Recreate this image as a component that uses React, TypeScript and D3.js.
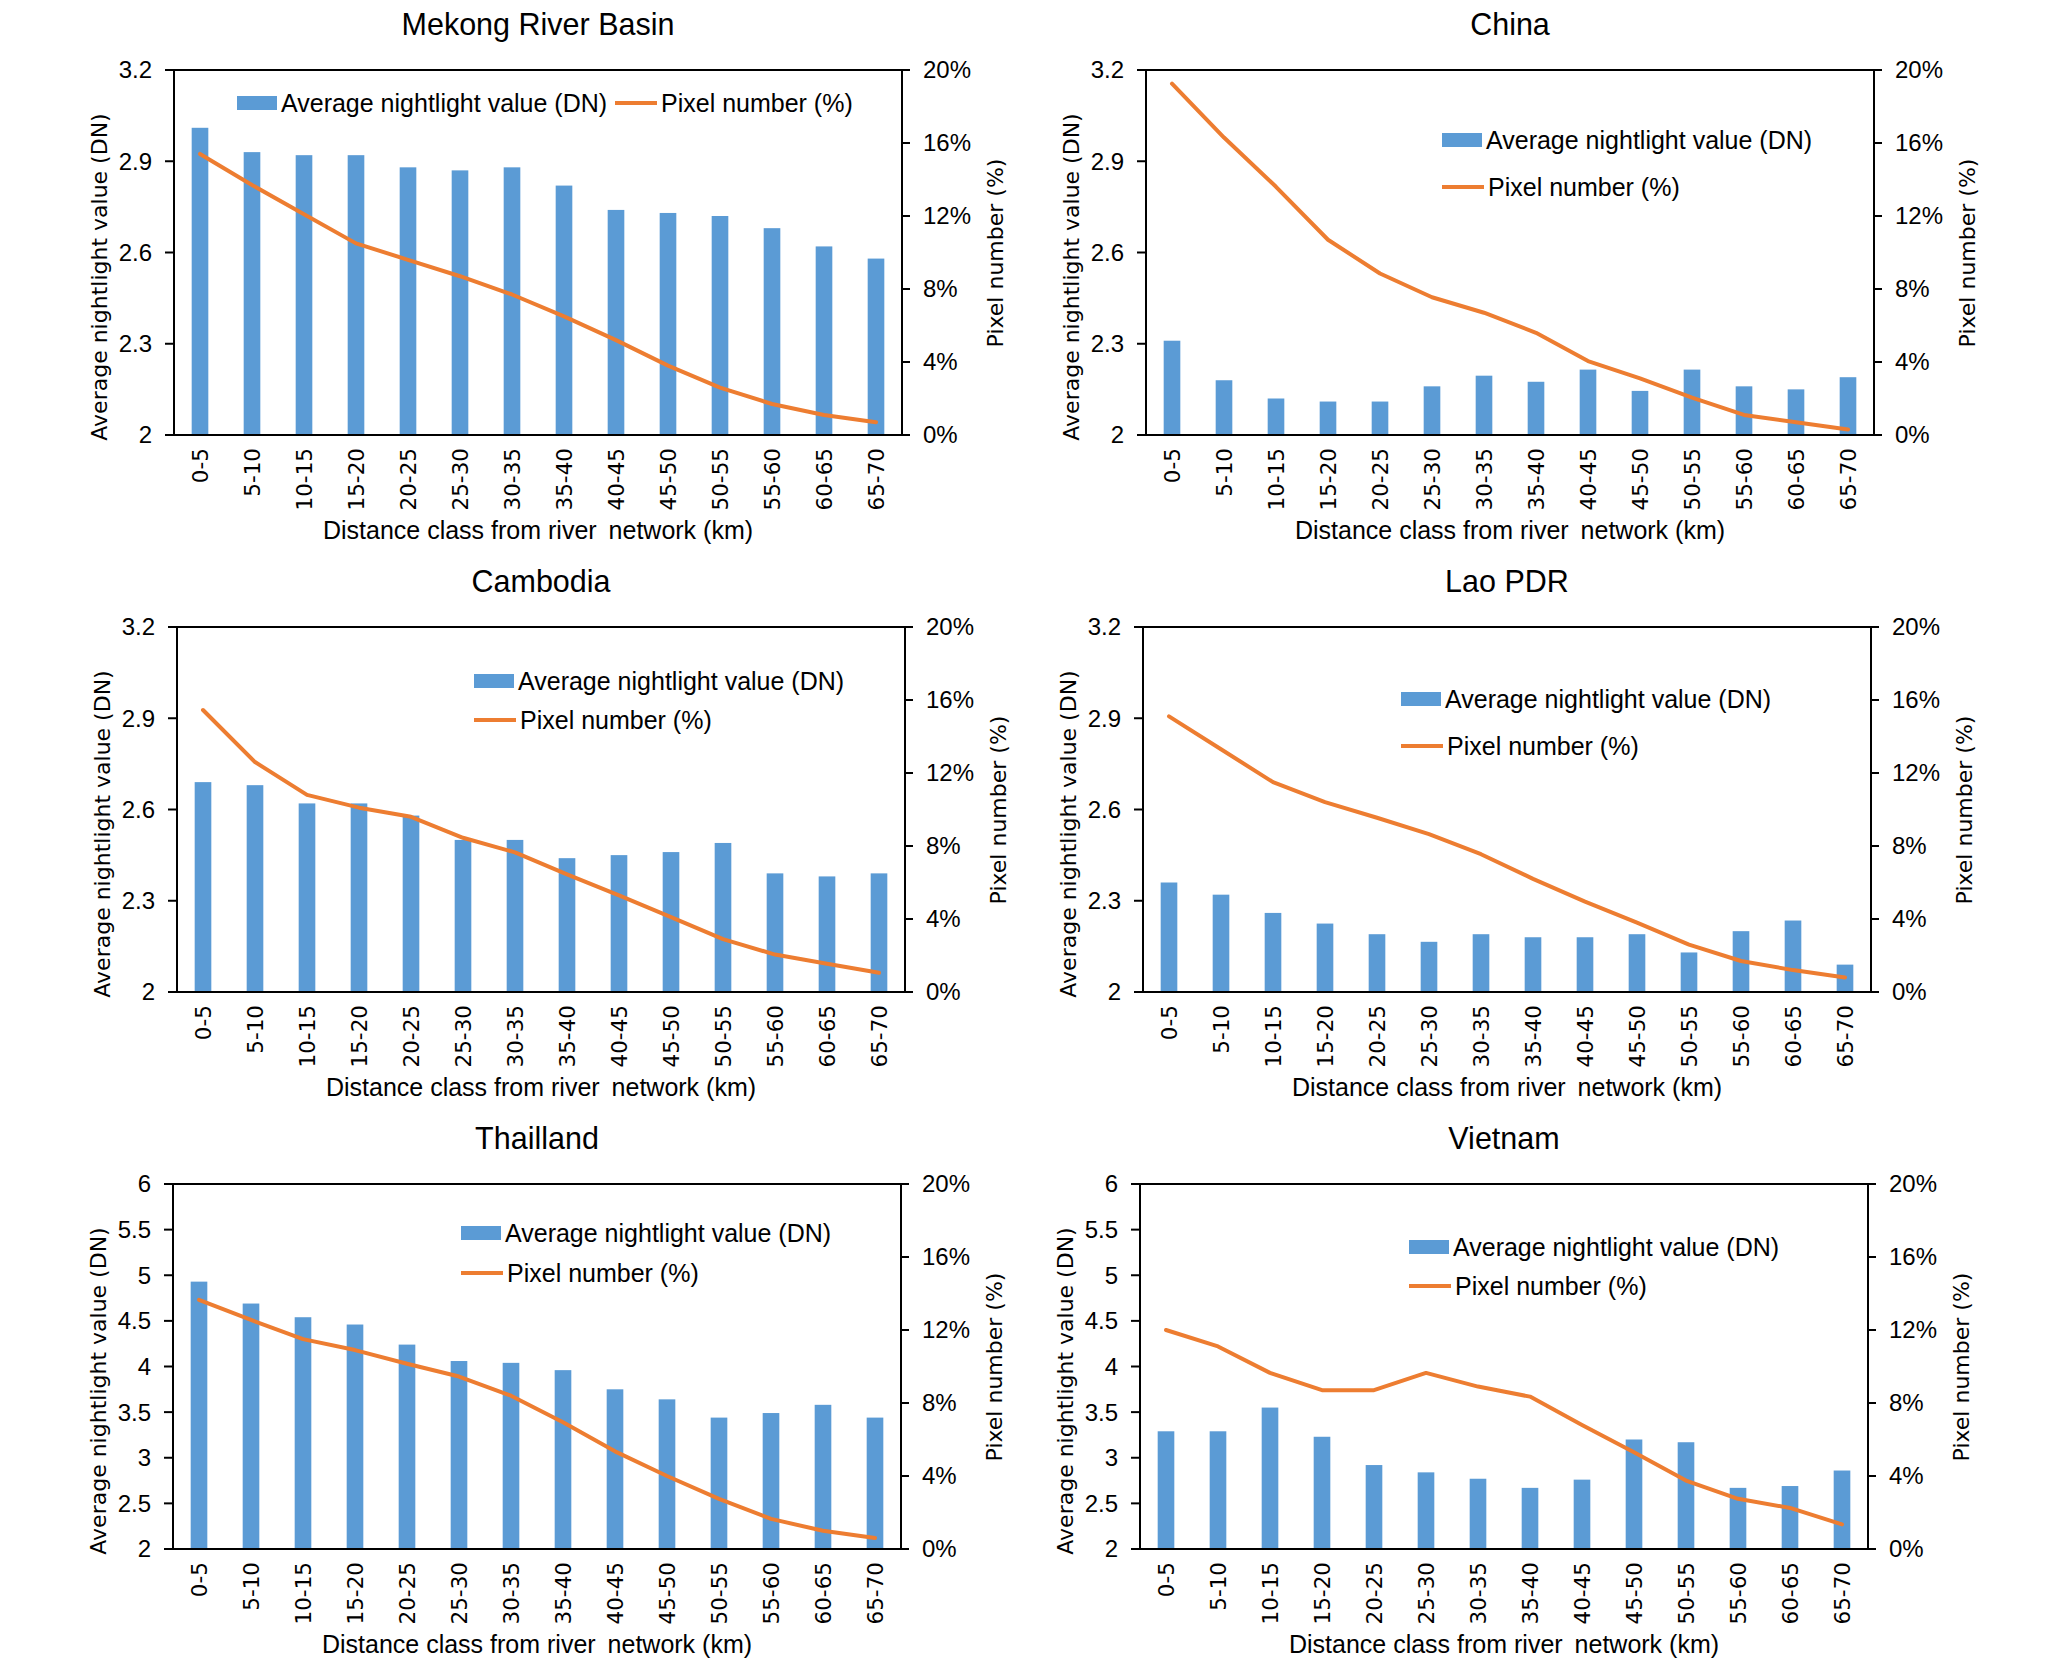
import * as d3 from 'd3';
import React from 'react';

// distance classes on the x axis
const categories = ['0-5', '5-10', '10-15', '15-20', '20-25', '25-30', '30-35', '35-40', '40-45', '45-50', '50-55', '55-60', '60-65', '65-70'];

const mekongNight = [3.01, 2.93, 2.92, 2.92, 2.88, 2.87, 2.88, 2.82, 2.74, 2.73, 2.72, 2.68, 2.62, 2.58];
const mekongPixel = [15.4, 13.7, 12.1, 10.5, 9.6, 8.7, 7.7, 6.5, 5.2, 3.8, 2.6, 1.7, 1.1, 0.7];
const chinaNight = [2.31, 2.18, 2.12, 2.11, 2.11, 2.16, 2.195, 2.175, 2.215, 2.145, 2.215, 2.16, 2.15, 2.19];
const chinaPixel = [19.25, 16.3, 13.6, 10.7, 8.85, 7.55, 6.7, 5.6, 4.05, 3.1, 2.05, 1.1, 0.7, 0.3];
const cambodiaNight = [2.69, 2.68, 2.62, 2.62, 2.58, 2.5, 2.5, 2.44, 2.45, 2.46, 2.49, 2.39, 2.38, 2.39];
const cambodiaPixel = [15.45, 12.6, 10.8, 10.1, 9.6, 8.45, 7.65, 6.45, 5.3, 4.1, 2.9, 2.05, 1.55, 1.05];
const laoNight = [2.36, 2.32, 2.26, 2.225, 2.19, 2.165, 2.19, 2.18, 2.18, 2.19, 2.13, 2.2, 2.235, 2.09];
const laoPixel = [15.1, 13.3, 11.5, 10.4, 9.55, 8.65, 7.55, 6.2, 4.95, 3.8, 2.6, 1.7, 1.2, 0.8];
const thaiNight = [4.93, 4.69, 4.54, 4.46, 4.24, 4.06, 4.04, 3.96, 3.75, 3.64, 3.44, 3.49, 3.58, 3.44];
const thaiPixel = [13.65, 12.55, 11.5, 10.9, 10.15, 9.45, 8.4, 6.95, 5.35, 4.0, 2.75, 1.65, 1.0, 0.6];
const vietNight = [3.29, 3.29, 3.55, 3.23, 2.92, 2.84, 2.77, 2.67, 2.76, 3.2, 3.17, 2.67, 2.69, 2.86];
const vietPixel = [12.0, 11.1, 9.65, 8.7, 8.7, 9.65, 8.9, 8.35, 6.8, 5.3, 3.75, 2.75, 2.25, 1.35];

const smallTicks = [2, 2.3, 2.6, 2.9, 3.2];
const largeTicks = [2, 2.5, 3, 3.5, 4, 4.5, 5, 5.5, 6];
const pctTicks = [0, 4, 8, 12, 16, 20];

const BLUE = '#5B9BD5';
const ORANGE = '#ED7D31';
const ARIAL = '"Liberation Sans", Arial, sans-serif';
const GOTHIC = '"DejaVu Sans", sans-serif';

const W = 728;
const H = 365;

type Panel = {
  title: string;
  night: number[];
  pixel: number[];
  yTicks: number[];
  left: number;
  top: number;
  legend: { row: boolean; x: number; y: number; y2: number };
};

const panels: Panel[] = [
  { title: 'Mekong River Basin', night: mekongNight, pixel: mekongPixel, yTicks: smallTicks, left: 174, top: 70, legend: { row: true, x: 63, y: 33, y2: 33 } },
  { title: 'China', night: chinaNight, pixel: chinaPixel, yTicks: smallTicks, left: 1146, top: 70, legend: { row: false, x: 296, y: 70, y2: 117 } },
  { title: 'Cambodia', night: cambodiaNight, pixel: cambodiaPixel, yTicks: smallTicks, left: 177, top: 627, legend: { row: false, x: 297, y: 54, y2: 93 } },
  { title: 'Lao PDR', night: laoNight, pixel: laoPixel, yTicks: smallTicks, left: 1143, top: 627, legend: { row: false, x: 258, y: 72, y2: 119 } },
  { title: 'Thailland', night: thaiNight, pixel: thaiPixel, yTicks: largeTicks, left: 173, top: 1184, legend: { row: false, x: 288, y: 49, y2: 89 } },
  { title: 'Vietnam', night: vietNight, pixel: vietPixel, yTicks: largeTicks, left: 1140, top: 1184, legend: { row: false, x: 269, y: 63, y2: 102 } },
];

const ChartPanel: React.FC<{ p: Panel }> = ({ p }) => {
  const x = d3.scaleBand<string>().domain(categories).range([0, W]);
  const yDomain = d3.extent(p.yTicks) as [number, number];
  const y = d3.scaleLinear().domain(yDomain).range([H, 0]);
  const y2 = d3.scaleLinear().domain([0, 20]).range([H, 0]);
  const barW = x.bandwidth() * 0.32;
  const cx = (c: string) => (x(c) ?? 0) + x.bandwidth() / 2;

  const line = d3.line<number>()
    .x((_, i) => cx(categories[i]))
    .y(d => y2(d));

  const lg = p.legend;
  const lineX = lg.row ? 441 : lg.x;

  return (
    <g transform={`translate(${p.left},${p.top})`}>
      <text x={W / 2} y={-35} textAnchor="middle" fontFamily={ARIAL} fontSize={30.5} fill="#000">{p.title}</text>

      {p.night.map((v, i) => (
        <rect key={i} x={cx(categories[i]) - barW / 2} y={y(v)} width={barW} height={H - y(v)} fill={BLUE} />
      ))}

      <path d={line(p.pixel) ?? ''} fill="none" stroke={ORANGE} strokeWidth={4} strokeLinejoin="round" strokeLinecap="round" />

      {/* frame */}
      <rect x={0} y={0} width={W} height={H} fill="none" stroke="#000" strokeWidth={2} />

      {/* left axis */}
      {p.yTicks.map(t => (
        <g key={t} transform={`translate(0,${y(t)})`}>
          <line x1={-9} x2={0} stroke="#000" strokeWidth={2} />
          <text x={-22} dy="0.35em" textAnchor="end" fontFamily={ARIAL} fontSize={24} fill="#000">{String(t)}</text>
        </g>
      ))}

      {/* right axis */}
      {pctTicks.map(t => (
        <g key={t} transform={`translate(${W},${y2(t)})`}>
          <line x1={0} x2={8} stroke="#000" strokeWidth={2} />
          <text x={21} dy="0.35em" textAnchor="start" fontFamily={ARIAL} fontSize={24} fill="#000">{t + '%'}</text>
        </g>
      ))}

      {/* x tick labels */}
      {categories.map(c => (
        <text key={c} transform={`translate(${cx(c)},${H + 13}) rotate(-90)`} dy="0.36em" textAnchor="end" fontFamily={GOTHIC} fontSize={21.5} fill="#000">{c}</text>
      ))}

      <text x={W / 2} y={H + 104} textAnchor="middle" fontFamily={ARIAL} fontSize={25} fill="#000" style={{ whiteSpace: 'pre' }}>{'Distance class from river\u2009 network (km)'}</text>

      <text transform={`translate(-75,207) rotate(-90)`} textAnchor="middle" dy="0.35em" fontFamily={GOTHIC} fontSize={22} fill="#000">Average nightlight value (DN)</text>
      <text transform={`translate(${W + 93},183) rotate(-90)`} textAnchor="middle" dy="0.35em" fontFamily={GOTHIC} fontSize={22} fill="#000">Pixel number (%)</text>

      {/* legend */}
      <rect x={lg.x} y={lg.y - 7} width={40} height={14} fill={BLUE} />
      <text x={lg.x + 44} y={lg.y} dy="0.35em" fontFamily={ARIAL} fontSize={25} fill="#000">Average nightlight value (DN)</text>
      <line x1={lineX} x2={lineX + 42} y1={lg.y2} y2={lg.y2} stroke={ORANGE} strokeWidth={4} />
      <text x={lineX + 46} y={lg.y2} dy="0.35em" fontFamily={ARIAL} fontSize={25} fill="#000">Pixel number (%)</text>
    </g>
  );
};

export default function App() {
  return (
    <div style={{ position: 'absolute', left: 0, top: 0 }}>
      <svg width={2067} height={1675} style={{ display: 'block', background: '#fff' }}>
        {panels.map(p => <ChartPanel key={p.title} p={p} />)}
      </svg>
    </div>
  );
}
